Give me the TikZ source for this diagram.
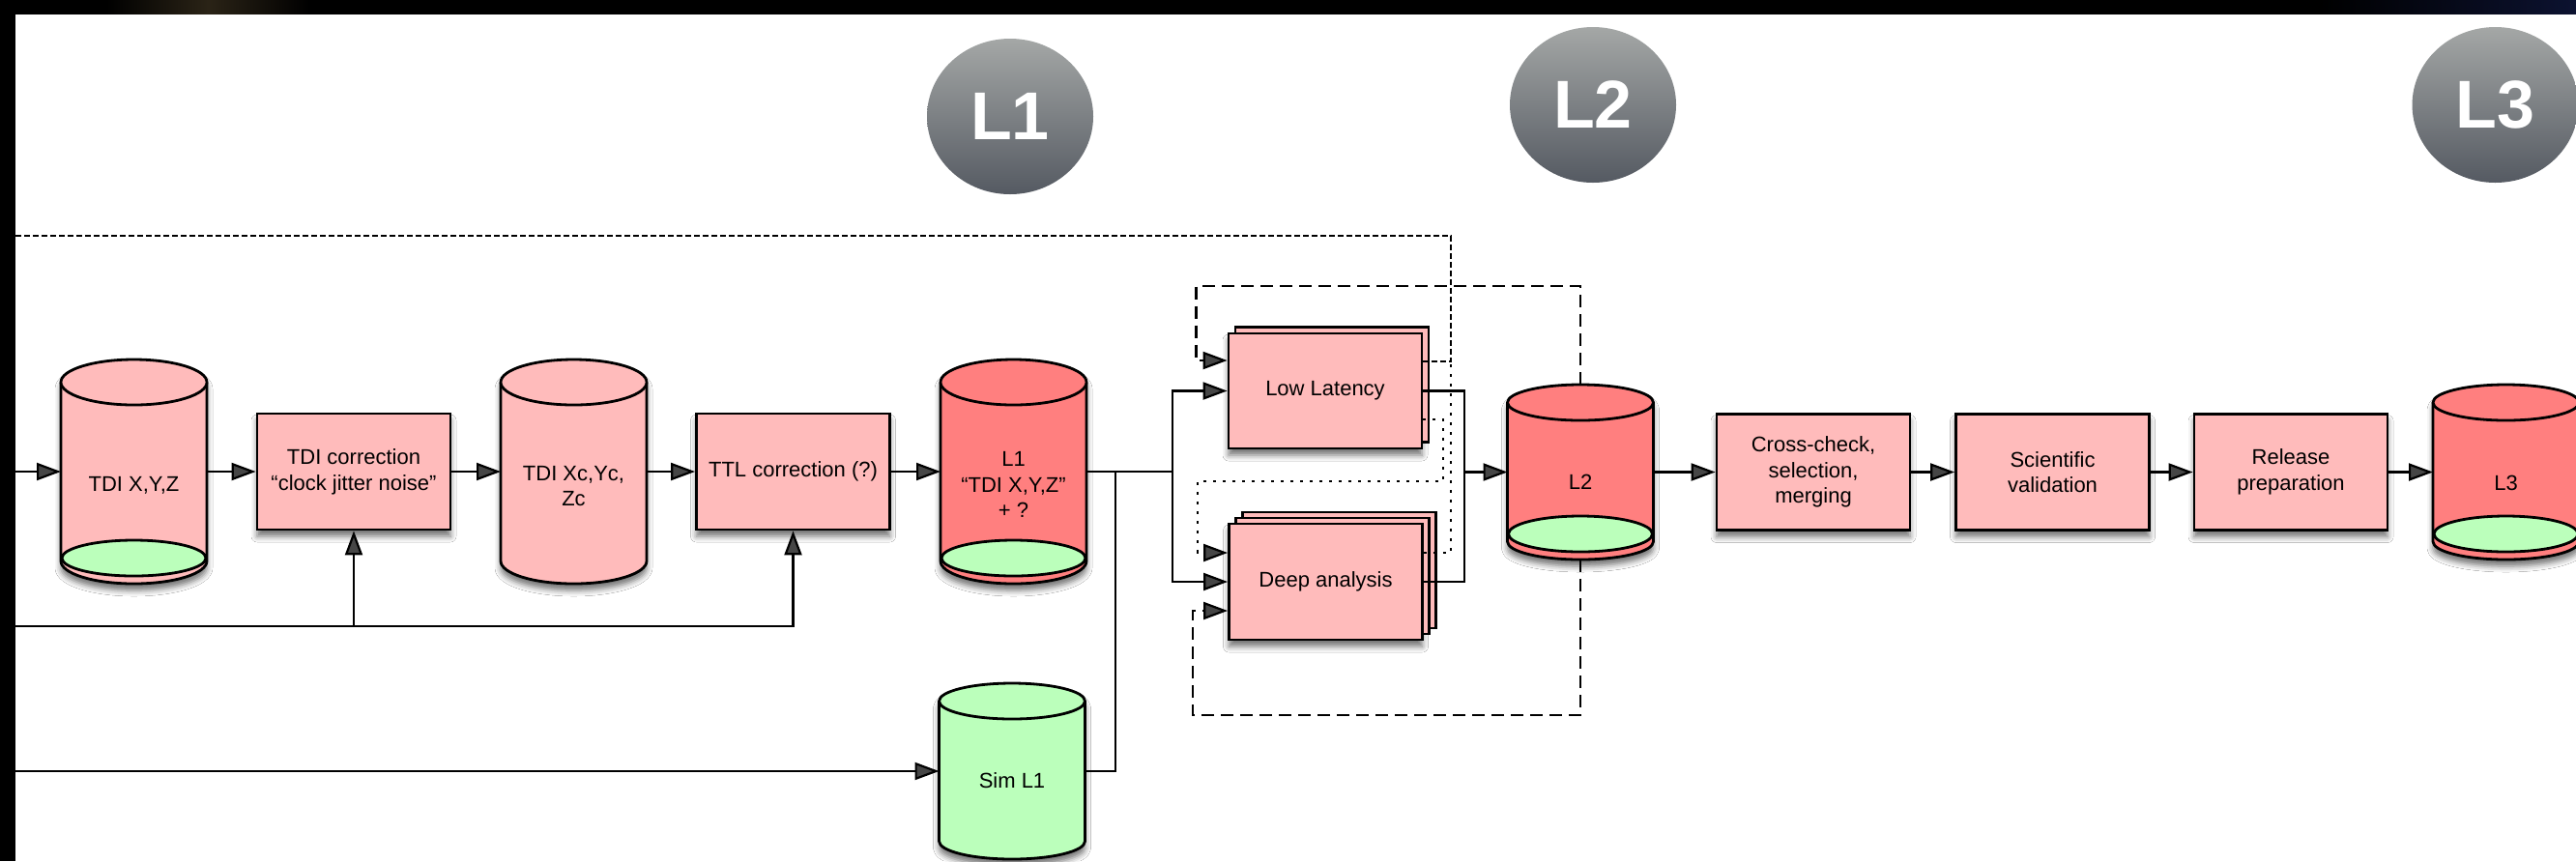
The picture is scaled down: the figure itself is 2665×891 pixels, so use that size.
\documentclass[tikz,border=0pt]{standalone}
\usepackage{fontspec}
\setmainfont{Liberation Sans}
\usetikzlibrary{arrows.meta,shapes.geometric,shadows,shadows.blur,calc}

\definecolor{boxpink}{HTML}{FFBBBB}
\definecolor{storered}{HTML}{FF7F7F}
\definecolor{simgreen}{HTML}{BBFFBB}
\definecolor{lvltop}{HTML}{A4A7A6}
\definecolor{lvlbot}{HTML}{555A62}
\definecolor{glowbrown}{RGB}{42,35,22}
\definecolor{nightblue}{RGB}{12,18,48}

\tikzset{
  softshadow/.style={blur shadow={shadow xshift=0pt, shadow yshift=-3.5pt, shadow blur radius=3pt, shadow opacity=55}},
  procbox/.style={draw=black, line width=1.4pt, fill=boxpink, minimum width=100pt, minimum height=60pt,
    inner sep=2pt, align=center, font=\fontsize{11}{13.3}\selectfont, softshadow},
  drumbody/.style={rectangle, inner sep=0pt, outer sep=0pt, minimum width=75.5pt},
  drumtext/.style={align=center, inner sep=0pt, font=\fontsize{11}{13.3}\selectfont},
  lvl/.style={ellipse, minimum width=86pt, minimum height=80.5pt, inner sep=0pt,
    top color=lvltop, bottom color=lvlbot, text=white, font=\fontsize{35}{35}\selectfont\bfseries},
  conn/.style={line width=1.1pt},
  arrow/.style={conn, -{Triangle[length=12.5pt, width=9pt]}},
  finedash/.style={conn, dash pattern=on 3pt off 1.5pt},
  longdash/.style={conn, dash pattern=on 6.5pt off 3.5pt},
  dotline/.style={conn, dash pattern=on 1.5pt off 3.5pt},
}

% data store drum: name, centre x, top-centre y, bottom-centre y, end radius, fill, green base (1/0)
\newcommand\drum[7]{%
  \node[drumbody, minimum height={(#4-#3)*0.5pt}] (#1) at (#2,{(#3+#4)/2}) {};
  \path[fill=#6, softshadow] (#1.north west) -- (#1.south west)
     arc[start angle=180, end angle=360, x radius=37.75pt, y radius=#5]
     -- (#1.north east)
     arc[start angle=0, end angle=180, x radius=37.75pt, y radius=#5] -- cycle;
  \draw[line width=1.4pt] (#1.north west) -- (#1.south west)
     arc[start angle=180, end angle=360, x radius=37.75pt, y radius=#5]
     -- (#1.north east);
  \ifnum#7=1
    \draw[line width=1.4pt, fill=simgreen] ([yshift={13.25pt-#5}]#1.south) ellipse[x radius=37.25pt, y radius=9.25pt];
  \fi
  \draw[line width=1.4pt, fill=#6] (#1.north) ellipse[x radius=37.75pt, y radius=#5];
}

\begin{document}
\begin{tikzpicture}[x=0.5pt, y=-0.5pt]
\useasboundingbox (0,0) rectangle (2665,891);
\clip (0,0) rectangle (2665,891);

% frame: dark sky border and white slide area
\fill[black] (0,0) rectangle (2665,891);
\shade[left color=black, right color=black, middle color=glowbrown] (110,0) rectangle (320,15);
\shade[left color=black, right color=nightblue] (2400,0) rectangle (2665,15);
\fill[white] (16,15) rectangle (2665,891);

% level badges
\node[lvl] (lvA) at (1045,120.5) {L1};
\node[lvl] (lvB) at (1648,108.5) {L2};
\node[lvl] (lvC) at (2581.5,108.5) {L3};

% data stores
\drum{tdixyz}{138.5}{395.5}{580.5}{11.75pt}{boxpink}{1}
\drum{tdixc}{593.5}{395.5}{580.5}{11.75pt}{boxpink}{0}
\drum{lone}{1048.5}{395.5}{580.5}{11.75pt}{storered}{1}
\drum{ltwo}{1635}{416.5}{560.5}{9.25pt}{storered}{1}
\drum{lthree}{2592.5}{416.5}{560.5}{9.25pt}{storered}{1}
\drum{siml}{1047}{725.5}{870.5}{9.25pt}{simgreen}{0}

\node[drumtext] (tdixyz-t) at (138.5,502) {TDI X,Y,Z};
\node[drumtext] (tdixc-t) at (593.5,503) {TDI Xc,Yc,\\Zc};
\node[drumtext] (lone-t) at (1048.5,501.5) {L1\\“TDI X,Y,Z”\\+ ?};
\node[drumtext] (ltwo-t) at (1635,499) {L2};
\node[drumtext] (lthree-t) at (2592.5,500) {L3};
\node[drumtext] (siml-t) at (1047,808) {Sim L1};

% processing steps
\node[procbox] (tdicorr) at (366,488) {TDI correction\\“clock jitter noise”};
\node[procbox] (ttl) at (820.5,488) {TTL correction (?)};
\node[procbox, minimum height=59.5pt, copy shadow={shadow xshift=3.5pt, shadow yshift=3.25pt}] (lowlat) at (1371,404.5) {\raisebox{-1.5pt}{Low Latency}};
\node[procbox, double copy shadow={shadow xshift=3.5pt, shadow yshift=3pt}] (deep) at (1371.5,602) {Deep analysis};
\node[procbox] (xcheck) at (1876,488.5) {Cross-check,\\selection,\\merging};
\node[procbox] (sciv) at (2123.5,488.5) {Scientific\\validation};
\node[procbox] (relp) at (2370,488.5) {Release\\preparation};

% free ends and junctions
\coordinate (inA) at (16,488);
\coordinate (inB) at (16,648);
\coordinate (inC) at (16,798);
\coordinate (fbTop) at (16,244);
\coordinate (split) at (1213,488);
\coordinate (simjoin) at (1154,488);
\coordinate (merge) at (1515,488.5);

% main chain
\draw[arrow] (inA) -- (tdixyz.west);
\draw[arrow] (tdixyz.east) -- (tdicorr.west);
\draw[arrow] (tdicorr.east) -- (tdixc.west);
\draw[arrow] (tdixc.east) -- (ttl.west);
\draw[arrow] (ttl.east) -- (lone.west);
\draw[arrow] (inB) -| (tdicorr.south);
\draw[arrow] (inB) -| (ttl.south);
\draw[arrow] (inC) -- (inC -| siml.west);

% L1 to the analysis pipelines
\draw[conn] (lone.east) -- (split);
\draw[conn] (siml.east) -| (simjoin);
\draw[arrow] (split) |- (lowlat.west);
\draw[arrow] (split) |- (deep.west);
\draw[conn] (lowlat.east) -| (merge);
\draw[conn] (deep.east) -| (merge);
\draw[arrow] (merge) -- (ltwo.west);

% L2 to L3
\draw[arrow] (ltwo.east) -- (xcheck.west);
\draw[arrow] (xcheck.east) -- (sciv.west);
\draw[arrow] (sciv.east) -- (relp.west);
\draw[arrow] (relp.east) -- (lthree.west);

% feedback loops
\draw[finedash] (lowlat.east |- 0,374) -- (1501,374) -- (1501,244) -- (fbTop);
\draw[dotline] (deep.east |- 0,572) -- (1501,572) -- (1501,374);
\draw[dotline, arrow] (lowlat.east |- 0,434) -- (1493,434) -- (1493,498) -- (1239,498) -- (1239,572) -- (deep.west |- 0,572);
\draw[longdash, arrow] ([yshift=9.25pt]ltwo.north) |- (1237.5,296) |- (lowlat.west |- 0,373);
\draw[longdash, arrow] ([yshift=-9.25pt]ltwo.south) |- (1234,740) |- (deep.west |- 0,632);
\end{tikzpicture}
\end{document}
